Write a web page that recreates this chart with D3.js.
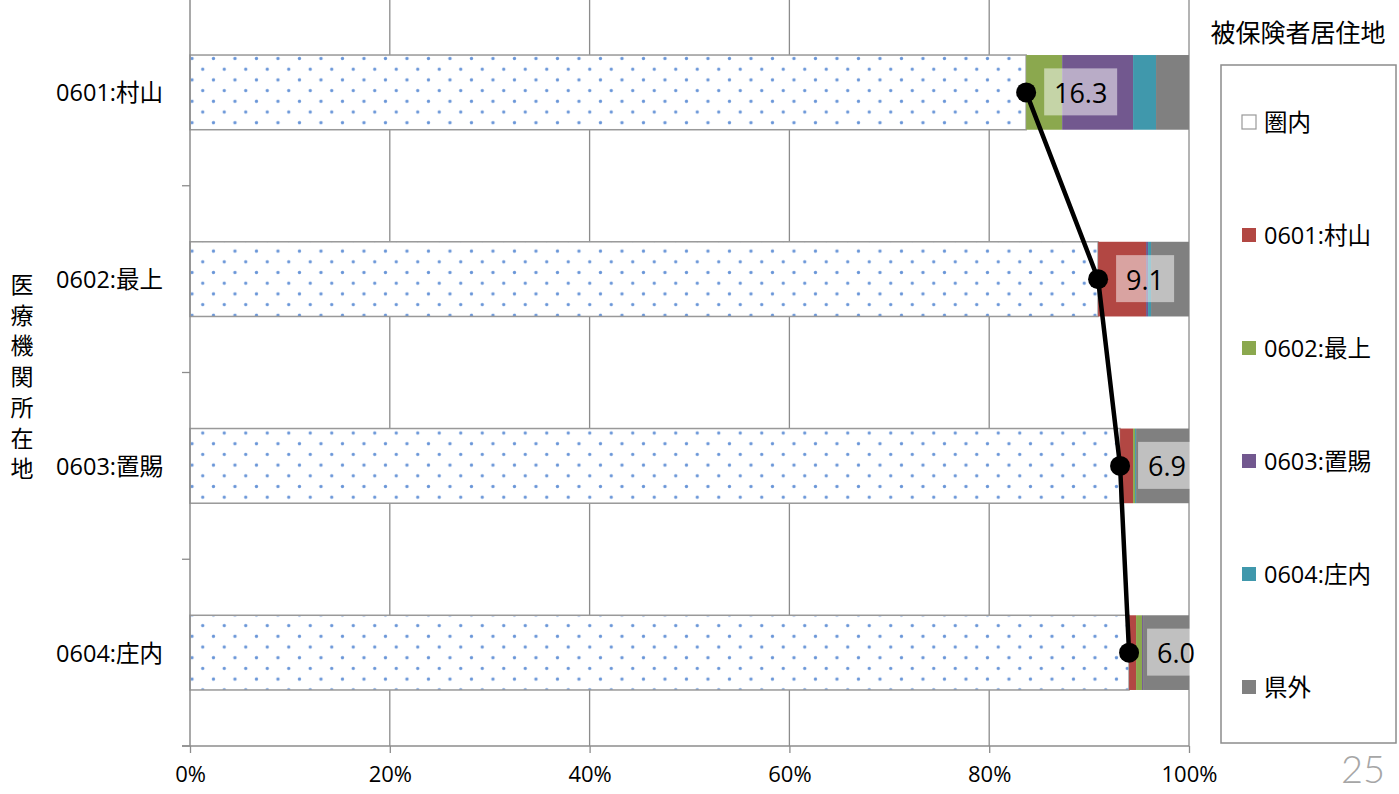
<!DOCTYPE html>
<html><head><meta charset="utf-8">
<script src="https://cdn.jsdelivr.net/npm/d3@7"></script>
<style>
html,body{margin:0;padding:0;background:#fff;}
text{font-family:"Open Sans","Noto Sans CJK JP",sans-serif;fill:#000;}
</style></head>
<body><svg id="c" width="1399" height="794"></svg>
<script>
const categories = ["0601:村山","0602:最上","0603:置賜","0604:庄内"];
const seriesNames = ["圏内","0601:村山","0602:最上","0603:置賜","0604:庄内","県外"];
const s_inner   = [83.7, 90.9, 93.1, 94.0];
const s_murayama= [0.0, 4.8, 1.3, 0.7];
const s_mogami  = [3.6, 0.0, 0.2, 0.6];
const s_okitama = [7.1, 0.2, 0.0, 0.1];
const s_shonai  = [2.3, 0.3, 0.1, 0.0];
const s_outside = [3.3, 3.8, 5.3, 4.6];
const outflow   = [16.3, 9.1, 6.9, 6.0];
const xTicks = [0,20,40,60,80,100];
const yTitle = "医療機関所在地";
const legendTitle = "被保険者居住地";
const colors = ["url(#dots)","#B24743","#8BA84E","#72588F","#4098AC","#808080"];

const seriesVals = [s_inner,s_murayama,s_mogami,s_okitama,s_shonai,s_outside];
const svg = d3.select("#c");
const L=190, R=1189, T=-1, B=746;
const x = d3.scaleLinear().domain([0,100]).range([L,R]);
const y = d3.scaleBand().domain(categories).range([T,B]).paddingInner(0.6).paddingOuter(0.3);

const defs = svg.append("defs");
const pat = defs.append("pattern").attr("id","dots").attr("patternUnits","userSpaceOnUse")
  .attr("width",21.5).attr("height",21.4).attr("x",x(0)+1.5).attr("y",y(categories[0])+3);
pat.append("rect").attr("width",21.5).attr("height",21.4).attr("fill","#fff");
[[0.5,0.5],[11.25,11.2],[21.9,0.5],[0.5,21.9],[21.9,21.9]].forEach(p=>
  pat.append("circle").attr("cx",p[0]).attr("cy",p[1]).attr("r",1.6).attr("fill","#6a96d8"));

// gridlines
svg.append("g").selectAll("line").data(xTicks.slice(1)).join("line")
  .attr("x1",d=>x(d)).attr("x2",d=>x(d)).attr("y1",0).attr("y2",B)
  .attr("stroke","#8c8c8c").attr("stroke-width",1.3);

// bars
const stackData = categories.map((c,i)=>{const o={cat:c}; seriesNames.forEach((s,j)=>o[s]=seriesVals[j][i]); return o;});
const stack = d3.stack().keys(seriesNames)(stackData);
stack.forEach((layer,j)=>{
  svg.append("g").selectAll("rect").data(layer).join("rect")
    .attr("x",d=>x(d[0])).attr("width",d=>x(d[1])-x(d[0]))
    .attr("y",d=>y(d.data.cat)).attr("height",y.bandwidth())
    .attr("fill",colors[j])
    .attr("stroke", j===0 ? "#999" : "none").attr("stroke-width", j===0 ? 1.5 : 0);
});

// axes
const xAxis = d3.axisBottom(x).tickValues(xTicks).tickFormat(d=>d+"%").tickSize(7).tickPadding(13);
const gx = svg.append("g").attr("transform",`translate(0,${B})`).call(xAxis);
gx.select(".domain").attr("stroke","#8c8c8c").attr("stroke-width",1.5).attr("d",`M${L-8},0H${R}`);
gx.selectAll(".tick line").attr("stroke","#8c8c8c").attr("stroke-width",1.3);
gx.selectAll("text").attr("font-size",22).attr("fill","#000").style("font-family",'"Open Sans","Noto Sans CJK JP",sans-serif');

const gy = svg.append("g").attr("transform",`translate(${L},0)`);
gy.append("line").attr("x1",0).attr("x2",0).attr("y1",0).attr("y2",B).attr("stroke","#8c8c8c").attr("stroke-width",1.5);
const bandStep = y.step();
const tickYs = categories.map((c,i)=>y(c)+y.bandwidth()+ (bandStep-y.bandwidth())/2);
gy.selectAll("line.t").data(tickYs).join("line").attr("class","t")
  .attr("x1",-8).attr("x2",0).attr("y1",d=>d).attr("y2",d=>d).attr("stroke","#8c8c8c").attr("stroke-width",1.3);
gy.selectAll("text").data(categories).join("text")
  .attr("x",-27).attr("y",d=>y(d)+y.bandwidth()/2).attr("text-anchor","end")
  .attr("dominant-baseline","central").attr("font-size",23.5).text(d=>d);

// y title vertical stacked
svg.append("g").selectAll("text").data(Array.from(yTitle)).join("text")
  .attr("x",22).attr("y",(d,i)=>284+i*30.7).attr("text-anchor","middle")
  .attr("dominant-baseline","central").attr("font-size",23).text(d=>d);

// line of outflow (point at end of 圏内)
const pts = categories.map((c,i)=>[x(100-outflow[i]), y(c)+y.bandwidth()/2]);
svg.append("path").attr("d",d3.line()(pts)).attr("fill","none").attr("stroke","#000").attr("stroke-width",4.5);
svg.append("g").selectAll("circle").data(pts).join("circle")
  .attr("cx",d=>d[0]).attr("cy",d=>d[1]).attr("r",10).attr("fill","#000");

// labels
const lg = svg.append("g");
categories.forEach((c,i)=>{
  const txt = outflow[i].toFixed(1);
  const w = txt.length*15+13;
  const bx = pts[i][0]+18;
  lg.append("rect").attr("x",bx).attr("y",pts[i][1]-24).attr("width",w).attr("height",47)
    .attr("fill","#fff").attr("fill-opacity",0.5);
  lg.append("text").attr("x",bx+w/2).attr("y",pts[i][1]).attr("text-anchor","middle")
    .attr("dominant-baseline","central").attr("font-size",27).text(txt);
});

// legend
svg.append("text").attr("x",1298).attr("y",32).attr("text-anchor","middle")
  .attr("dominant-baseline","central").attr("font-size",25).text(legendTitle);
svg.append("rect").attr("x",1221).attr("y",65).attr("width",175).attr("height",678)
  .attr("fill","#fff").attr("stroke","#8c8c8c").attr("stroke-width",1.5);
const li = svg.append("g").selectAll("g").data(seriesNames).join("g")
  .attr("transform",(d,i)=>`translate(1242,${122+i*113})`);
li.append("rect").attr("x",0).attr("y",-7).attr("width",14).attr("height",14)
  .attr("fill",(d,i)=>i===0?"#fff":colors[i]).attr("stroke",(d,i)=>i===0?"#999":"none").attr("stroke-width",1.2);
li.append("text").attr("x",22).attr("y",0).attr("dominant-baseline","central").attr("font-size",23.5).text(d=>d);

// page number
svg.append("text").attr("x",1385).attr("y",768).attr("text-anchor","end").attr("dominant-baseline","central")
  .attr("font-size",38).style("font-weight",300).style("fill","#a6a6a6").style("font-family","Lato, sans-serif").text("25");
</script></body></html>
